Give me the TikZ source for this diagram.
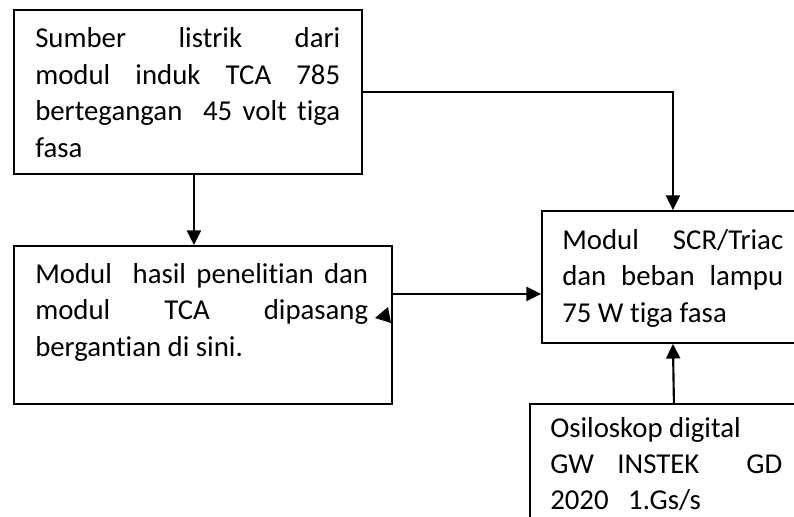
\documentclass[tikz,border=0pt]{standalone}
\usepackage{fontspec}
\setmainfont{Carlito}[Ligatures=NoCommon]
\usetikzlibrary{arrows.meta,calc}
\newcommand\js{\hskip 0.226em plus 1fil\relax}
\tikzset{
  box/.style={draw, line width=1.4pt, rectangle, anchor=north west, inner sep=0pt},
  txt/.style={anchor=base west, inner sep=0pt, font=\fontsize{21.6}{27.4}\selectfont},
  arr/.style={line width=1.6pt, -{Triangle[length=11pt,width=10.5pt]}}
}
\begin{document}
\begin{tikzpicture}[x=0.75pt,y=-0.75pt]
\useasboundingbox (0,0) rectangle (794,517);
\clip (0,0) rectangle (794,517);
% boxes
\node[box, minimum width=261pt, minimum height=123pt] (A) at (13,9) {};
\node[box, minimum width=283.5pt, minimum height=118.5pt] (B) at (13,245) {};
\node[box, minimum width=196.5pt, minimum height=99pt] (C) at (541,210) {};
\node[box, minimum width=216pt, minimum height=105pt] (D) at (529,403) {};
% texts
\node[txt] (At) at (35,47.5) {\vtop{\baselineskip=27.4pt
  \hbox to 228.75pt{Sumber\js listrik\js dari}
  \hbox to 228.75pt{modul\js induk\js TCA\js 785}
  \hbox to 228.75pt{bertegangan\js\js 45\js volt\js tiga}
  \hbox{fasa}}};
\node[txt] (Bt) at (35,283.3) {\vtop{\baselineskip=27.4pt
  \hbox to 249.75pt{Modul\js\js hasil\js penelitian\js dan}
  \hbox to 249.75pt{modul\js TCA\js dipasang}
  \hbox{bergantian di sini.}}};
\node[txt] (Ct) at (562,249) {\vtop{\baselineskip=27.4pt
  \hbox to 165.75pt{Modul\js SCR/Triac}
  \hbox to 165.75pt{dan\js beban\js lampu}
  \hbox{75 W tiga fasa}}};
\node[txt] (Dt) at (550,437) {\vtop{\baselineskip=27.2pt
  \hbox{Osiloskop digital}
  \hbox to 174pt{GW\js INSTEK\js\js GD}
  \hbox{2020\hskip 0.68em 1.Gs/s}}};
% connectors
\draw[arr] ([xshift=4.5pt]A.south) -- ([xshift=4.5pt]A.south |- B.north);
\draw[arr] (A.east) -| (C.north);
\draw[arr] ([yshift=23.25pt]B.east) -- ([yshift=23.25pt]B.east -| C.west);
\draw[arr] (D.north) -- (C.south);
% stray arrowhead on B's right side
\fill (375,318) -- (388,307) -- (391,323) -- cycle;
\end{tikzpicture}
\end{document}
